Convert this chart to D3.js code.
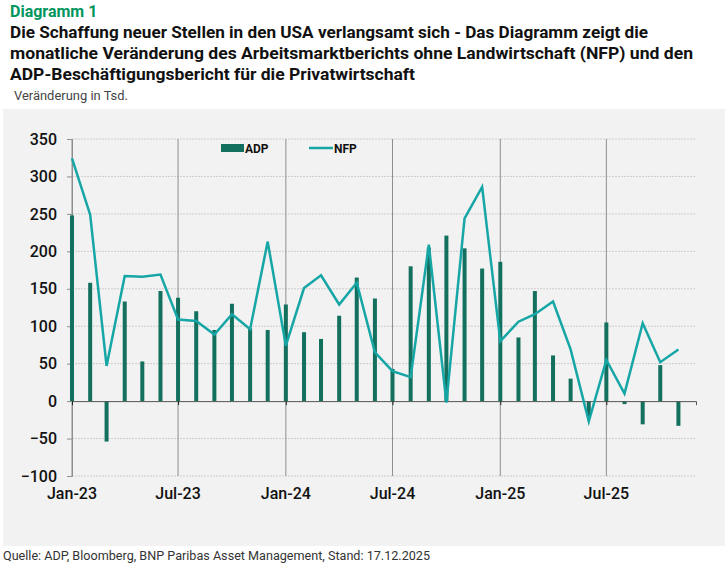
<!DOCTYPE html>
<html>
<head>
<meta charset="utf-8">
<script src="https://cdn.jsdelivr.net/npm/d3@7"></script>
<style>
  body { margin: 0; background: #fff; }
  svg { display: block; }
  text { font-family: Roboto, "Noto Sans", sans-serif; }
</style>
</head>
<body>
<svg id="chart" width="725" height="565"></svg>
<script>
// months Jan-23 .. Nov-25
const months = [
  "2023-01","2023-02","2023-03","2023-04","2023-05","2023-06",
  "2023-07","2023-08","2023-09","2023-10","2023-11","2023-12",
  "2024-01","2024-02","2024-03","2024-04","2024-05","2024-06",
  "2024-07","2024-08","2024-09","2024-10","2024-11","2024-12",
  "2025-01","2025-02","2025-03","2025-04","2025-05","2025-06",
  "2025-07","2025-08","2025-09","2025-10","2025-11"
];
const adp = [
  248, 158, -54, 133, 53, 147,
  138, 120, 95, 130, 97, 95,
  129, 92, 83, 114, 165, 137,
  43, 180, 205, 221, 204, 177,
  186, 85, 147, 61, 30, -20,
  105, -4, -31, 48, -33
];
const nfp = [
  324, 249, 47, 167, 166, 169,
  109, 107, 89, 116, 96, 213,
  74, 151, 168, 129, 158, 65,
  40, 32, 209, -2, 244, 286,
  80, 106, 116, 133, 69, -27,
  55, 10, 104, 52, 69
];
const yTicks = [-100, -50, 0, 50, 100, 150, 200, 250, 300, 350];
const xTickLabels = ["Jan-23", "Jul-23", "Jan-24", "Jul-24", "Jan-25", "Jul-25"];

const BAR_COLOR = "#13705f";
const LINE_COLOR = "#16a6a6";

const svg = d3.select("#chart");
const parse = d3.timeParse("%Y-%m");
const fmtTick = d3.timeFormat("%b-%y");

const x = d3.scaleTime()
  .domain([parse("2023-01"), parse("2025-12")])
  .range([72, 696]);
const y = d3.scaleLinear()
  .domain([-100, 350])
  .range([476, 139]);

const data = months.map((m, i) => ({date: parse(m), adp: adp[i], nfp: nfp[i]}));
const xTickDates = xTickLabels.map(l => d3.timeParse("%b-%y")(l));

// panel background
svg.append("rect")
  .attr("x", 3).attr("y", 109)
  .attr("width", 722).attr("height", 437)
  .attr("fill", "#f2f2f2");

// headings
svg.append("text")
  .attr("x", 10).attr("y", 17)
  .attr("fill", "#00965e")
  .attr("font-size", 16).attr("font-weight", 700)
  .text("Diagramm 1");

const titleLines = [
  "Die Schaffung neuer Stellen in den USA verlangsamt sich - Das Diagramm zeigt die",
  "monatliche Veränderung des Arbeitsmarktberichts ohne Landwirtschaft (NFP) und den",
  "ADP-Beschäftigungsbericht für die Privatwirtschaft"
];
const titleWidths = [638, 683, 405];
svg.selectAll(".title").data(titleLines).join("text")
  .attr("class", "title")
  .attr("x", 10)
  .attr("y", (d, i) => 38 + i * 21)
  .attr("fill", "#111")
  .attr("font-size", 16).attr("font-weight", 700)
  .attr("textLength", (d, i) => titleWidths[i])
  .attr("lengthAdjust", "spacingAndGlyphs")
  .text(d => d);

svg.append("text")
  .attr("x", 14).attr("y", 100)
  .attr("fill", "#444")
  .attr("font-size", 12.5)
  .attr("textLength", 114)
  .attr("lengthAdjust", "spacingAndGlyphs")
  .text("Veränderung in Tsd.");

// horizontal grid
svg.selectAll(".hgrid").data(yTicks.filter(t => t !== 0)).join("line")
  .attr("class", "hgrid")
  .attr("x1", x.range()[0]).attr("x2", x.range()[1])
  .attr("y1", d => y(d)).attr("y2", d => y(d))
  .attr("stroke", "#cdcdcd")
  .attr("stroke-width", 1)
  .attr("stroke-dasharray", "2,1");

// vertical lines every 6 months
svg.selectAll(".vgrid").data(xTickDates).join("line")
  .attr("class", "vgrid")
  .attr("x1", d => x(d)).attr("x2", d => x(d))
  .attr("y1", y(350)).attr("y2", y(-100))
  .attr("stroke", "#8e8e8e")
  .attr("stroke-width", 1);

// y axis
const yAxis = svg.append("g")
  .attr("transform", `translate(${x.range()[0]},0)`)
  .call(d3.axisLeft(y).tickValues(yTicks).tickSize(5).tickPadding(10));
yAxis.select(".domain").attr("stroke", "#8e8e8e");
yAxis.selectAll(".tick line").attr("stroke", "#8e8e8e");
yAxis.selectAll(".tick text")
  .attr("font-size", 16).attr("font-weight", 500)
  .attr("fill", "#111")
  .style("font-family", "Roboto, sans-serif");

// bars
svg.selectAll(".bar").data(data).join("rect")
  .attr("class", "bar")
  .attr("x", d => x(d.date) - 2)
  .attr("width", 4)
  .attr("y", d => y(Math.max(0, d.adp)))
  .attr("height", d => Math.abs(y(d.adp) - y(0)))
  .attr("fill", BAR_COLOR);

// zero line with ticks
const xAxis = svg.append("g")
  .attr("transform", `translate(0,${y(0)})`)
  .call(d3.axisBottom(x).tickValues(xTickDates).tickSize(4).tickFormat(() => ""));
xAxis.select(".domain").attr("stroke", "#555");
xAxis.selectAll(".tick line").attr("stroke", "#222");

// x labels
svg.selectAll(".xlab").data(xTickDates).join("text")
  .attr("class", "xlab")
  .attr("x", d => x(d))
  .attr("y", 499)
  .attr("text-anchor", "middle")
  .attr("font-size", 16).attr("font-weight", 500)
  .attr("fill", "#111")
  .text(d => fmtTick(d));

// NFP line
const line = d3.line()
  .x(d => x(d.date))
  .y(d => y(d.nfp));
svg.append("path")
  .datum(data)
  .attr("d", line)
  .attr("fill", "none")
  .attr("stroke", LINE_COLOR)
  .attr("stroke-width", 2.5)
  .attr("stroke-linejoin", "miter");

// legend
svg.append("rect")
  .attr("x", 221).attr("y", 144)
  .attr("width", 23).attr("height", 8)
  .attr("fill", BAR_COLOR);
svg.append("text")
  .attr("x", 245).attr("y", 153)
  .attr("font-size", 12).attr("font-weight", 700)
  .attr("fill", "#111")
  .text("ADP");
svg.append("line")
  .attr("x1", 309).attr("x2", 333)
  .attr("y1", 148).attr("y2", 148)
  .attr("stroke", LINE_COLOR)
  .attr("stroke-width", 2.5);
svg.append("text")
  .attr("x", 334).attr("y", 153)
  .attr("font-size", 12).attr("font-weight", 700)
  .attr("fill", "#111")
  .text("NFP");

// source
svg.append("text")
  .attr("x", 3).attr("y", 560)
  .attr("font-size", 12.5)
  .attr("fill", "#333")
  .attr("textLength", 427)
  .attr("lengthAdjust", "spacingAndGlyphs")
  .text("Quelle: ADP, Bloomberg, BNP Paribas Asset Management, Stand: 17.12.2025");
</script>
</body>
</html>
